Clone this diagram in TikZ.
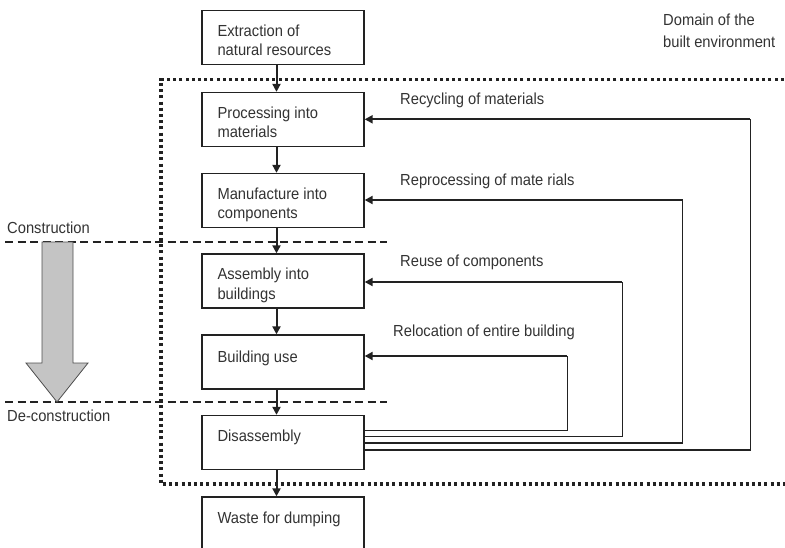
\documentclass[tikz,border=0pt]{standalone}
\usepackage{fontspec}
\setmainfont{Liberation Sans}[FakeStretch=0.92]
\usetikzlibrary{arrows.meta,calc}
\definecolor{ink}{HTML}{222222}
\definecolor{txt}{HTML}{333333}
\definecolor{arrowgray}{HTML}{C4C4C4}
\begin{document}
\begin{tikzpicture}[x=1pt,y=-1pt,
  font=\fontsize{16}{19.5}\selectfont,
  stagebox/.style={draw=ink,line width=1.3pt,fill=white,minimum width=162pt,minimum height=54pt,inner sep=0pt},
  boxtext/.style={anchor=north west,inner sep=0pt,align=left,text=txt},
  sidetext/.style={anchor=base west,inner sep=0pt,align=left,text=txt},
  flow/.style={draw=ink,line width=2pt,-{Triangle[length=8pt,width=8pt]}},
  back/.style={draw=ink,line width=1.2pt},
  backin/.style={draw=ink,line width=2pt,-{Triangle[length=8pt,width=8pt]}},
  domainline/.style={draw=ink,line width=3.3pt,dash pattern=on 3pt off 3.2pt},
  phaseline/.style={draw=ink,line width=2pt,dash pattern=on 8pt off 4.5pt}]
\useasboundingbox (0,0) rectangle (785,547);

% domain of the built environment (dotted frame)
\coordinate (dTL) at (161,79.5);
\coordinate (dTR) at (790,79.5);
\coordinate (dBL) at (161,484);
\coordinate (dBR) at (790,484);
\draw[domainline] (dTR) -- (dTL) -- (dBL) -- (dBR);
\node[sidetext] (domlbl) at (663,47.5) {Domain of the\\[2.5pt]built environment};

% phase lines
\coordinate (c1) at (5,241.7);
\coordinate (c2) at (387,241.7);
\coordinate (d1) at (5,402);
\coordinate (d2) at (387,402);
\draw[phaseline] (c1) -- (c2);
\draw[phaseline] (d1) -- (d2);
\node[sidetext] (constr) at (7,233) {Construction};
\node[sidetext] (deconstr) at (7,421.5) {De-construction};

% big gray arrow
\draw[draw=ink!80,line width=0.8pt,fill=arrowgray]
  (42,242) -- (73,242) -- (73,363) -- (88,363) -- (57,402) -- (26,363) -- (42,363) -- cycle;

% stages
\node[stagebox] (b1) at (283,37.5) {};
\node[stagebox] (b2) at (283,119.5) {};
\node[stagebox] (b3) at (283,200.5) {};
\node[stagebox] (b4) at (283,281) {};
\node[stagebox] (b5) at (283,362) {};
\node[stagebox] (b6) at (283,442.5) {};
\node[stagebox] (b7) at (283,524) {};

\node[boxtext] (t1) at ($(b1.north west)+(16,14.5)$) {Extraction of\\natural resources};
\node[boxtext] (t2) at ($(b2.north west)+(16,14.5)$) {Processing into\\materials};
\node[boxtext] (t3) at ($(b3.north west)+(16,14.5)$) {Manufacture into\\components};
\node[boxtext] (t4) at ($(b4.north west)+(16,14.5)$) {Assembly into\\buildings};
\node[boxtext] (t5) at ($(b5.north west)+(16,16.5)$) {Building use};
\node[boxtext] (t6) at ($(b6.north west)+(16,15)$) {Disassembly};
\node[boxtext] (t7) at ($(b7.north west)+(16,15.5)$) {Waste for dumping};

% main flow
\foreach \a/\b in {b1/b2,b2/b3,b3/b4,b4/b5,b5/b6,b6/b7}
  \draw[flow] ([xshift=-6.5pt]\a.south) -- ([xshift=-6.5pt]\b.north);

% feedback loops
\coordinate (r1) at (567.3,430.7);
\coordinate (r2) at (567.3,356);
\coordinate (u1) at (622.3,436.3);
\coordinate (u2) at (622.3,282);
\coordinate (p1) at (682.7,443);
\coordinate (p2) at (682.7,200);
\coordinate (y1) at (750.3,450);
\coordinate (y2) at (750.3,119.3);

\draw[back] (b6.east |- r1) -- (r1) -- (r2);
\draw[backin] (r2) -- (b5.east |- r2);
\draw[back] (b6.east |- u1) -- (u1) -- (u2);
\draw[backin] (u2) -- (b4.east |- u2);
\draw[back] (b6.east |- p1) -- (p1) -- (p2);
\draw[backin] (p2) -- (b3.east |- p2);
\draw[back] (b6.east |- y1) -- (y1) -- (y2);
\draw[backin] (y2) -- (b2.east |- y2);

\node[sidetext] (lrec) at (400,104.3) {Recycling of materials};
\node[sidetext] (lrep) at (400,185) {Reprocessing of mate rials};
\node[sidetext] (lreu) at (400,266.5) {Reuse of components};
\node[sidetext] (lrel) at (393,336.5) {Relocation of entire building};
\end{tikzpicture}
\end{document}
